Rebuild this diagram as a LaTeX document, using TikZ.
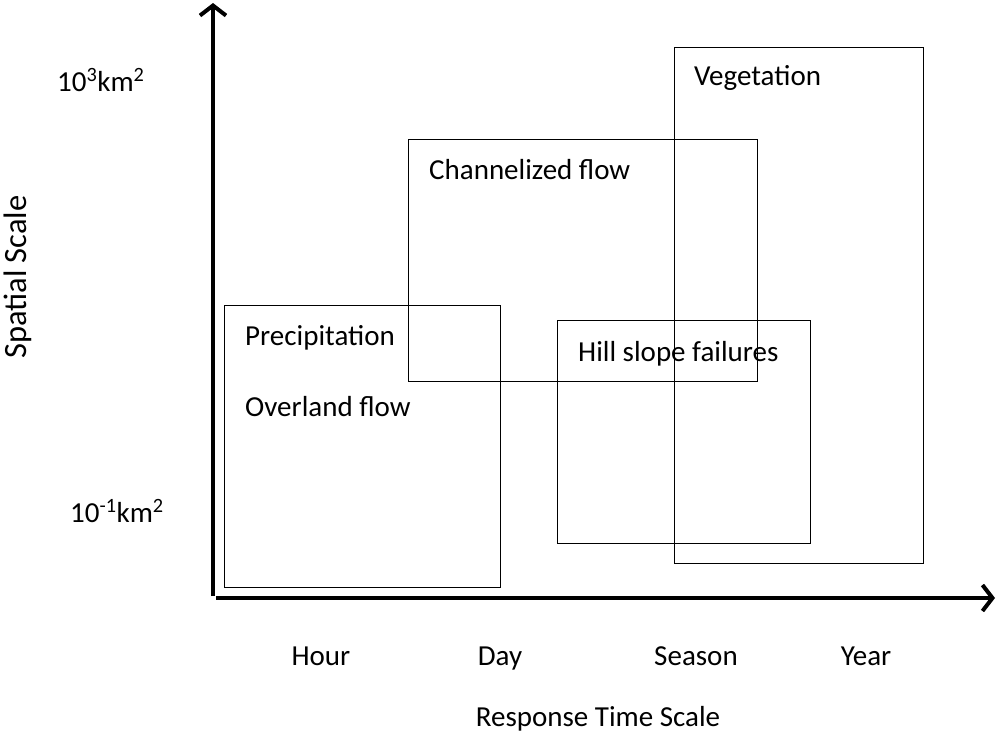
\documentclass[tikz,border=0pt]{standalone}
\usepackage{fontspec}
\setmainfont{Carlito}
\usetikzlibrary{arrows.meta}
\begin{document}
\begin{tikzpicture}[x=1pt,y=-1pt,
  box/.style={draw=black, line width=1.3pt, inner sep=0pt, anchor=north west},
  axis/.style={line width=4pt, -{Straight Barb[length=10pt,width=26pt,line width=4pt]}},
  lbl/.style={inner sep=0pt, font=\fontsize{29}{35}\selectfont},
  every node/.style={text=black}]
\useasboundingbox (0,0) rectangle (997,740);
% axes
\coordinate (o1) at (213,596);
\coordinate (ytop) at (213,3);
\coordinate (o2) at (216,598);
\coordinate (xend) at (995,598);
\draw[axis] (o1) -- (ytop);
\draw[axis] (o2) -- (xend);
% boxes
\node[box, minimum width=276pt, minimum height=282pt] (precip) at (224,305) {};
\node[box, minimum width=349pt, minimum height=242pt] (chan) at (408,139) {};
\node[box, minimum width=253pt, minimum height=223pt] (hill) at (557,320) {};
\node[box, minimum width=249pt, minimum height=516pt] (veg) at (674,47) {};
% box labels
\node[lbl, anchor=base west] (tprecip) at (245,345) {Precipitation};
\node[lbl, anchor=base west] (tover) at (245,416) {Overland flow};
\node[lbl, anchor=base west] (tchan) at (429,179) {Channelized flow};
\node[lbl, anchor=base west] (thill) at (578,361) {Hill slope failures};
\node[lbl, anchor=base west] (tveg) at (694,85) {Vegetation};
% y labels
\node[lbl, anchor=base west] (y3) at (57,91) {10\textsuperscript{3}km\textsuperscript{2}};
\node[lbl, anchor=base west] (y1) at (70,522) {10\textsuperscript{-1}km\textsuperscript{2}};
\node[lbl, rotate=90, anchor=base, font=\fontsize{32.5}{38}\selectfont] (ylab) at (27,277) {Spatial Scale};
% x labels
\node[lbl, anchor=base] (hour) at (321,665) {Hour};
\node[lbl, anchor=base] (day) at (500,665) {Day};
\node[lbl, anchor=base] (season) at (696,665) {Season};
\node[lbl, anchor=base] (year) at (866,665) {Year};
\node[lbl, anchor=base] (xlab) at (598,726) {Response Time Scale};
\end{tikzpicture}
\end{document}
